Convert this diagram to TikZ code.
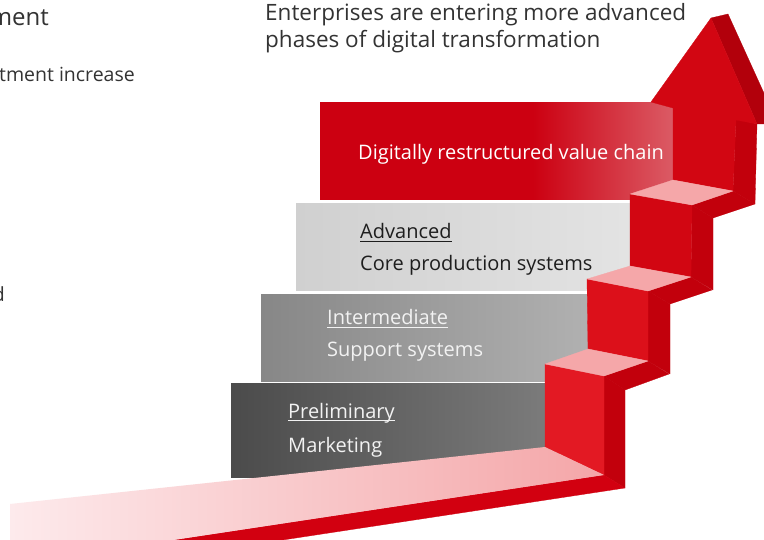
\documentclass[tikz,border=0pt]{standalone}
\usepackage{fontspec}
\setmainfont{Open Sans}
\definecolor{pinktop}{RGB}{245,167,169}
\definecolor{frontA}{RGB}{227,25,35}
\definecolor{frontB}{RGB}{220,16,26}
\definecolor{frontC}{RGB}{210,6,18}
\definecolor{sidedark}{RGB}{194,0,12}
\definecolor{headside}{RGB}{178,0,11}
\definecolor{bandred}{RGB}{210,0,16}
\definecolor{floorL}{RGB}{253,234,236}
\definecolor{floorR}{RGB}{244,166,168}
\definecolor{redL}{RGB}{204,0,17}
\definecolor{redR}{RGB}{219,92,102}
\definecolor{titlegray}{RGB}{51,51,51}
\definecolor{darktxt}{RGB}{30,30,30}
\definecolor{lighttxt}{RGB}{242,242,242}
\pgfdeclarehorizontalshading{redfade}{100bp}{color(0bp)=(redL); color(25bp)=(redL); color(55bp)=(redL); color(75bp)=(redR); color(100bp)=(redR)}
\begin{document}
\begin{tikzpicture}[x=1pt,y=-1pt,
  facefill/.style={fill=#1,draw=#1,line width=0.3pt,line join=round},
  boxtxt/.style={inner sep=0pt,anchor=base west,font=\fontsize{20}{24}\selectfont},
  titletxt/.style={inner sep=0pt,anchor=base west,text=titlegray,font=\fontsize{22.5}{26}\selectfont},
  sidetxt/.style={inner sep=0pt,anchor=base east,text=titlegray,font=\fontsize{19.5}{23}\selectfont},
  uline/.style={line width=1.1pt}]
\useasboundingbox (0,0) rectangle (764,540);
\clip (0,0) rectangle (764,540);
\fill[white] (0,0) rectangle (764,540);

% phase boxes
\shade[shading=redfade] (320,103) rectangle (675,200);
\shade[left color={rgb,255:red,208;green,208;blue,208}, right color={rgb,255:red,228;green,228;blue,228}] (296,204) rectangle (645,291);
\shade[left color={rgb,255:red,135;green,135;blue,135}, right color={rgb,255:red,178;green,178;blue,178}] (261,295) rectangle (600,382);
\shade[left color={rgb,255:red,75;green,75;blue,75}, right color={rgb,255:red,125;green,125;blue,125}] (231,384) rectangle (560,477);

% dark side faces
\path[facefill=headside] (711,18) -- (728,14) -- (778,124) -- (757,124) -- cycle;
\path[facefill=sidedark] (736,119) -- (757,124) -- (755,204) -- (733,191) -- cycle;
\path[facefill=sidedark] (692,205) -- (733,191) -- (755,204) -- (713,218) -- cycle;
\path[facefill=sidedark] (692,205) -- (713,218) -- (713,290) -- (691,277) -- cycle;
\path[facefill=sidedark] (648,291) -- (691,277) -- (712,290) -- (670,304) -- cycle;
\path[facefill=sidedark] (648,291) -- (670,304) -- (670,374) -- (648,361) -- cycle;
\path[facefill=sidedark] (604,376) -- (648,361) -- (669,374) -- (625,390) -- cycle;
\path[facefill=sidedark] (604,376) -- (625,390) -- (625,488) -- (604,475) -- cycle;
\path[facefill=bandred] (167,541) -- (604,475) -- (625,488) -- (276,541) -- cycle;

% arrow head and shaft
\path[facefill=frontC] (651,102) -- (711,18) -- (757,124) -- (736,120) -- (733,191) -- (673,180) -- (673,108) -- cycle;
% steps
\path[facefill=frontC] (630,194) -- (692,205) -- (691,277) -- (630,266) -- cycle;
\path[facefill=pinktop] (630,194) -- (673,180) -- (733,191) -- (692,205) -- cycle;
\path[facefill=frontB] (587,279) -- (648,291) -- (648,361) -- (588,349) -- cycle;
\path[facefill=pinktop] (587,279) -- (630,266) -- (691,277) -- (648,291) -- cycle;
\path[facefill=frontA] (545,364) -- (604,376) -- (604,475) -- (545,447) -- cycle;
\path[facefill=pinktop] (545,364) -- (588,349) -- (648,361) -- (604,376) -- cycle;
% floor
\shade[left color=floorL, right color=floorR] (10,504) -- (545,447) -- (604,475) -- (167,541) -- (10,541) -- cycle;

% texts
\node[titletxt] (t1) at (265,21) {Enterprises are entering more advanced};
\node[titletxt] (t2) at (265,48) {phases of digital transformation};
\node[sidetxt,font=\fontsize{24}{28}\selectfont] (l1) at (49,26) {ment};
\node[sidetxt] (l2) at (135,82) {tment increase};
\node[sidetxt] (l3) at (5,302) {d};

\node[boxtxt,text=white] (p4) at (358,160) {Digitally restructured value chain};
\node[boxtxt,text=darktxt] (p3a) at (360,239) {Advanced};
\node[boxtxt,text=darktxt] (p3b) at (360,271) {Core production systems};
\node[boxtxt,text=lighttxt] (p2a) at (327,325) {Intermediate};
\node[boxtxt,text=lighttxt] (p2b) at (327,356) {Support systems};
\node[boxtxt,text=lighttxt] (p1a) at (288,418) {Preliminary};
\node[boxtxt,text=lighttxt] (p1b) at (288,452) {Marketing};

\draw[uline,darktxt] ([yshift=-2.5pt]p3a.base west) -- ([yshift=-2.5pt]p3a.base east);
\draw[uline,lighttxt] ([yshift=-2.5pt]p2a.base west) -- ([yshift=-2.5pt]p2a.base east);
\draw[uline,lighttxt] ([yshift=-2.5pt]p1a.base west) -- ([yshift=-2.5pt]p1a.base east);
\end{tikzpicture}
\end{document}
